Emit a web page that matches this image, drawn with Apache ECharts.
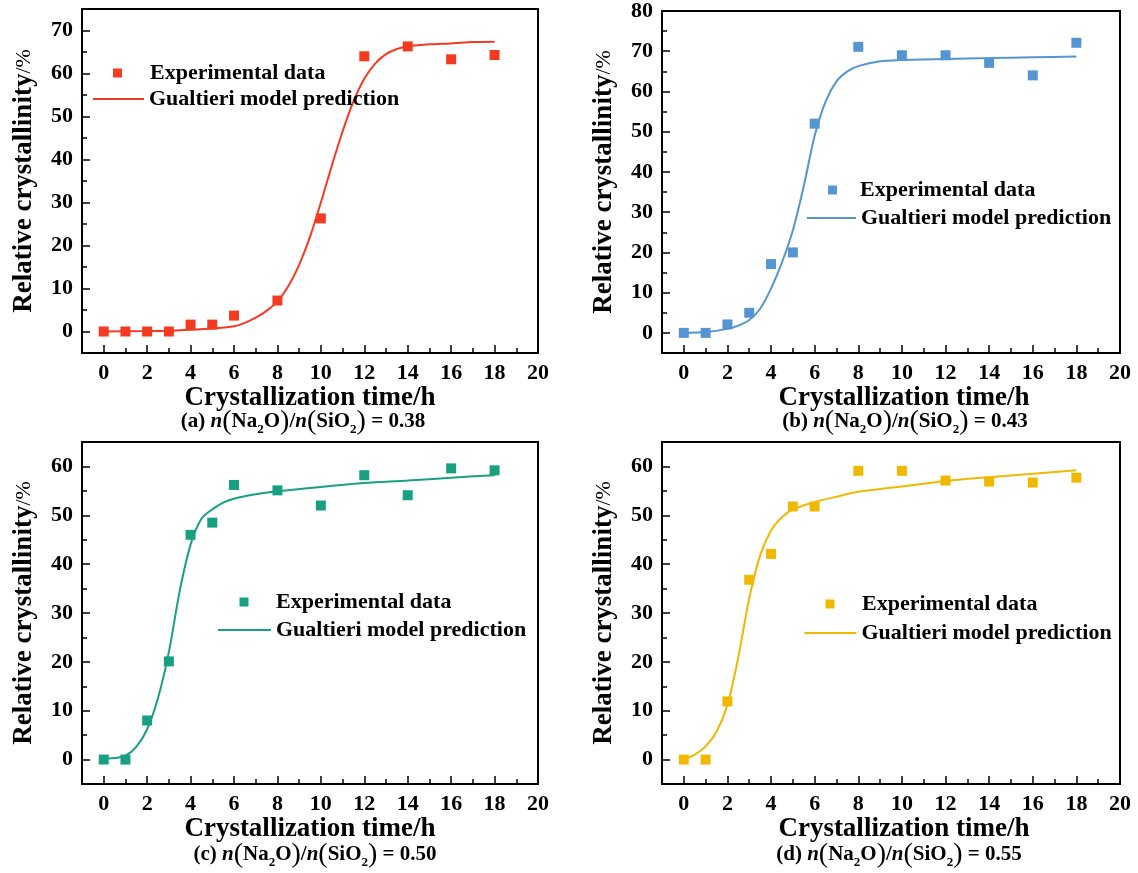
<!DOCTYPE html>
<html><head><meta charset="utf-8">
<script src="https://cdn.jsdelivr.net/npm/echarts@6/dist/echarts.min.js"></script>
<style>html,body{margin:0;padding:0;background:#fff}#c{width:1138px;height:873px}</style>
</head><body><div id="c"></div>
<script>
// ---- data ----
const expTime = [0, 1, 2, 3, 4, 5, 6, 8, 10, 12, 14, 16, 18];
const expA = [0, 0, 0, 0, 1.6, 1.6, 3.7, 7.2, 26.3, 64.0, 66.3, 63.3, 64.3];
const expB = [0, 0, 2.1, 5.0, 17.1, 20.0, 52.0, 71.1, 69.0, 69.0, 67.1, 64.0, 72.1];
const expC = [0, 0, 8.0, 20.1, 46.0, 48.5, 56.2, 55.1, 52.0, 58.2, 54.1, 59.6, 59.2];
const expD = [0, 0, 11.9, 36.8, 42.1, 51.8, 51.8, 59.1, 59.1, 57.1, 56.9, 56.7, 57.7];

const fitTimeA = [0, 2, 3, 4, 5, 6, 6.5, 7, 7.5, 8, 8.5, 9, 9.5, 10, 10.5, 11, 11.5, 12, 12.5, 13, 13.5, 14, 15, 16, 17, 18];
const fitA = [0, 0.1, 0.2, 0.4, 0.7, 1.2, 2.0, 3.2, 4.8, 7.0, 10.5, 15.5, 22, 30, 38.5, 46.5, 53.5, 58.8, 62.3, 64.5, 65.7, 66.3, 66.8, 67.0, 67.3, 67.4];
const fitTimeB = [0, 1, 2, 2.5, 3, 3.5, 4, 4.5, 5, 5.5, 6, 6.5, 7, 7.5, 8, 9, 10, 12, 14, 16, 18];
const fitB = [0, 0.2, 1.0, 1.8, 3.2, 6, 11, 17.5, 25.5, 36.5, 49, 57.5, 62.5, 65, 66.3, 67.5, 67.8, 68.1, 68.3, 68.5, 68.7];
const fitTimeC = [0, 0.5, 1, 1.5, 2, 2.5, 3, 3.5, 4, 4.5, 5, 5.5, 6, 7, 8, 10, 12, 14, 16, 18];
const fitC = [0.2, 0.3, 0.8, 2.6, 6.2, 12.6, 22, 34.5, 44, 49.3, 51.2, 52.6, 53.4, 54.3, 54.9, 55.8, 56.6, 57.1, 57.7, 58.2];
const fitTimeD = [0, 0.5, 1, 1.5, 2, 2.5, 3, 3.5, 4, 4.5, 5, 6, 7, 8, 10, 12, 14, 16, 18];
const fitD = [0, 1, 2.7, 5.7, 11.2, 21, 33, 41.8, 46.9, 49.6, 51.2, 52.7, 53.8, 54.8, 55.9, 57.0, 57.8, 58.5, 59.2];

const xTicks = [0, 2, 4, 6, 8, 10, 12, 14, 16, 18, 20];
const yTicksA = [0, 10, 20, 30, 40, 50, 60, 70];
const yTicksB = [0, 10, 20, 30, 40, 50, 60, 70, 80];
const yTicksCD = [0, 10, 20, 30, 40, 50, 60];

const captionLabels = ['(a) ', '(b) ', '(c) ', '(d) '];
const captionValues = ['0.38', '0.43', '0.50', '0.55'];
const legendExp = 'Experimental data';
const legendFit = 'Gualtieri model prediction';
const xName = 'Crystallization time/h';
const yNameMain = 'Relative crystallinity';
const yNameUnit = '/%';

// ---- layout / style ----
const FONT = "'Liberation Serif','Times New Roman',serif";
const colors = ['#F43A20', '#5596D2', '#19A082', '#F0B800'];
const panels = [
  {grid: {left: 82, top: 9, width: 456, height: 344}, yMin: -5, yMax: 75, yTicks: yTicksA, exp: expA, fitT: fitTimeA, fit: fitA,
   cap: [303, 422], nameShift: 0, legS: [113, 62, 23], legL: [93, 88, 51]},
  {grid: {left: 662, top: 9, width: 458, height: 344}, yMin: -5, yMax: 80, yTicks: yTicksB, exp: expB, fitT: fitTimeB, fit: fitB,
   cap: [905, 422], nameShift: 26, legS: [828, 179, 18], legL: [807, 207, 49]},
  {grid: {left: 82, top: 442, width: 456, height: 342}, yMin: -5, yMax: 65, yTicks: yTicksCD, exp: expC, fitT: fitTimeC, fit: fitC,
   cap: [315, 855], nameShift: 0, legS: [239.5, 591, 22.5], legL: [218, 619, 53]},
  {grid: {left: 662, top: 442, width: 458, height: 342}, yMin: -5, yMax: 65, yTicks: yTicksCD, exp: expD, fitT: fitTimeD, fit: fitD,
   cap: [899, 855], nameShift: 26, legS: [825.5, 593, 22.5], legL: [804.5, 622, 52]}
];

const axisLineStyle = {color: '#000', width: 2};
const tickStyle = {color: '#000', width: 1.5};
const labelStyle = {fontSize: 22, fontWeight: 'bold', fontFamily: FONT, color: '#000'};

const option = {backgroundColor: '#ffffff', animation: false, grid: [], xAxis: [], yAxis: [], series: [], legend: [], graphic: []};

panels.forEach((p, i) => {
  option.grid.push(Object.assign({show: true, borderColor: '#000', borderWidth: 2, backgroundColor: 'transparent'}, p.grid));
  option.xAxis.push({
    gridIndex: i, type: 'value', min: -1, max: 20, position: 'bottom',
    axisLine: {show: true, onZero: false, lineStyle: axisLineStyle},
    splitLine: {show: false},
    axisTick: {show: true, inside: true, length: 8, customValues: xTicks, lineStyle: tickStyle},
    axisLabel: Object.assign({customValues: xTicks, margin: 9}, labelStyle),
    name: xName, nameLocation: 'middle', nameGap: 27,
    nameTextStyle: {fontSize: 27, lineHeight: 27, fontWeight: 'bold', fontFamily: FONT, color: '#000', padding: [0, 0, 0, p.nameShift]}
  });
  option.xAxis.push({
    gridIndex: i, type: 'value', min: -1, max: 20, interval: 1, position: 'bottom',
    axisLine: {show: false, onZero: false}, splitLine: {show: false}, axisLabel: {show: false},
    axisTick: {show: true, inside: true, length: 5, lineStyle: tickStyle}
  });
  option.yAxis.push({
    gridIndex: i, type: 'value', min: p.yMin, max: p.yMax, position: 'left',
    axisLine: {show: true, onZero: false, lineStyle: axisLineStyle},
    splitLine: {show: false},
    axisTick: {show: true, inside: true, length: 8, customValues: p.yTicks, lineStyle: tickStyle},
    axisLabel: Object.assign({customValues: p.yTicks, margin: 9}, labelStyle),
    name: '{b|' + yNameMain + '}{s|' + yNameUnit + '}', nameLocation: 'middle', nameGap: 44,
    nameTextStyle: {rich: {
      b: {fontSize: 27, lineHeight: 27, fontWeight: 'bold', fontFamily: FONT, color: '#000'},
      s: {fontSize: 22, lineHeight: 27, fontFamily: FONT, color: '#000'}
    }}
  });
  option.yAxis.push({
    gridIndex: i, type: 'value', min: p.yMin, max: p.yMax, interval: 5, position: 'left',
    axisLine: {show: false, onZero: false}, splitLine: {show: false}, axisLabel: {show: false},
    axisTick: {show: true, inside: true, length: 5, lineStyle: tickStyle}
  });

  const fitName = 'fit' + i, expName = 'exp' + i;
  option.series.push({
    name: fitName, type: 'line', xAxisIndex: 2 * i, yAxisIndex: 2 * i,
    data: p.fitT.map((t, k) => [t, p.fit[k]]),
    smooth: 0.3, symbol: 'none', color: colors[i],
    lineStyle: {color: colors[i], width: 2}, itemStyle: {color: colors[i]}, z: 2
  });
  option.series.push({
    name: expName, type: 'scatter', xAxisIndex: 2 * i, yAxisIndex: 2 * i,
    data: expTime.map((t, k) => [t, p.exp[k]]),
    symbol: 'rect', symbolSize: 10, color: colors[i], itemStyle: {color: colors[i], opacity: 1}, z: 3
  });

  const legText = {fontSize: 22, lineHeight: 22, fontWeight: 'bold', fontFamily: FONT, color: '#000'};
  option.legend.push({
    data: [expName], left: p.legS[0], top: p.legS[1], padding: 0, icon: 'rect',
    itemWidth: 9, itemHeight: 9, selectedMode: false, formatter: () => legendExp,
    itemStyle: {opacity: 1},
    textStyle: Object.assign({padding: [0, 0, 0, p.legS[2]]}, legText)
  });
  option.legend.push({
    data: [fitName], left: p.legL[0], top: p.legL[1], padding: 0, icon: 'rect',
    itemWidth: p.legL[2], itemHeight: 2, selectedMode: false, formatter: () => legendFit,
    textStyle: legText
  });

  const m = {fontSize: 21, fontWeight: 'bold', fontFamily: FONT, fill: '#000'};
  const it = {fontSize: 21, fontWeight: 'bold', fontStyle: 'italic', fontFamily: FONT, fill: '#000'};
  const P = {fontSize: 28, fontFamily: FONT, fill: '#000'};
  const sub = {fontSize: 13, fontWeight: 'bold', fontFamily: FONT, fill: '#000', verticalAlign: 'bottom', lineHeight: 15};
  option.graphic.push({
    type: 'text', x: p.cap[0], y: p.cap[1], z: 10,
    style: {
      text: '{m|' + captionLabels[i] + '}{i|n}{P|(}{m|Na}{s|2}{m|O}{P|)}{m|/}{i|n}{P|(}{m|SiO}{s|2}{P|)}{m| = ' + captionValues[i] + '}',
      rich: {m: m, i: it, P: P, s: sub},
      align: 'center', verticalAlign: 'middle', fill: '#000', fontSize: 21, fontFamily: FONT
    }
  });
});

const chart = echarts.init(document.getElementById('c'), null, {renderer: 'canvas'});
chart.setOption(option);
</script>
</body></html>
